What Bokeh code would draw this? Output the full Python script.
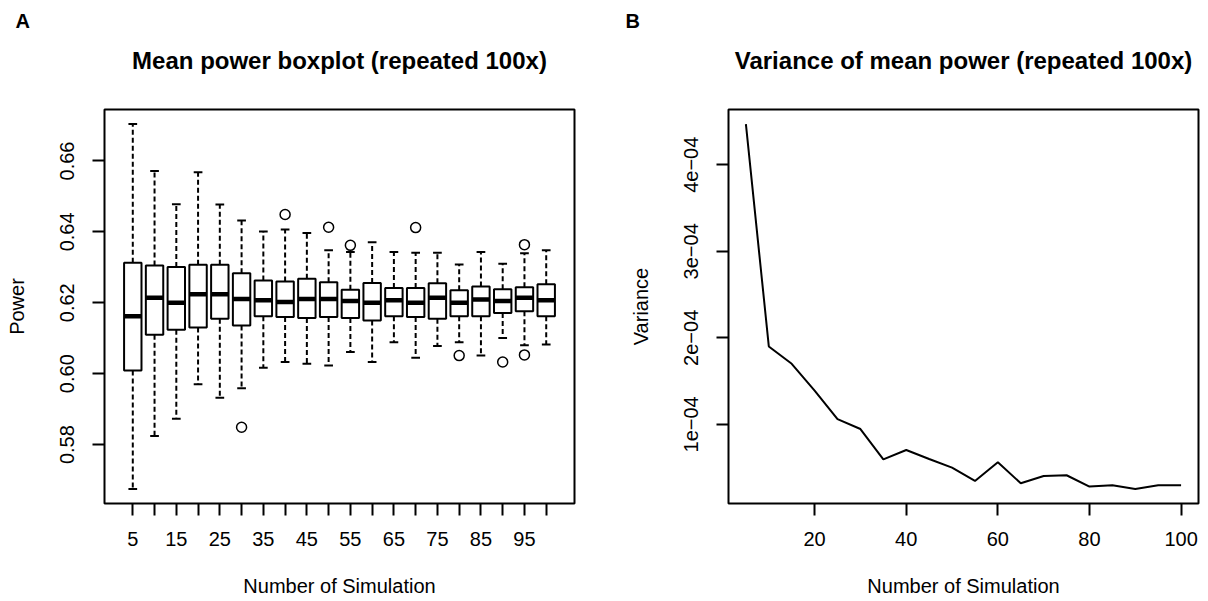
import numpy as np
from bokeh.plotting import figure
from bokeh.layouts import row, column
from bokeh.models import (Range1d, FixedTicker, PrintfTickFormatter,
                          CustomJSTickFormatter, ColumnDataSource)
from bokeh.core.properties import value
from bokeh.embed import file_html
from bokeh.resources import INLINE

FONT = "Liberation Sans"

# ---------------- data ----------------
n_sim = [5, 10, 15, 20, 25, 30, 35, 40, 45, 50, 55, 60, 65, 70, 75, 80, 85, 90, 95, 100]
x_tick_labels = ["5", "", "15", "", "25", "", "35", "", "45", "", "55", "", "65", "",
                 "75", "", "85", "", "95", ""]

whisker_hi = [0.6704, 0.6572, 0.6478, 0.6568, 0.6477, 0.6432, 0.6401, 0.6407, 0.6397, 0.6348,
              0.6343, 0.6371, 0.6343, 0.6341, 0.6341, 0.6308, 0.6343, 0.6310, 0.6340, 0.6348]
q3 = [0.6313, 0.6305, 0.6301, 0.6307, 0.6307, 0.6283, 0.6263, 0.6260, 0.6268, 0.6258,
      0.6237, 0.6256, 0.6242, 0.6242, 0.6255, 0.6235, 0.6246, 0.6238, 0.6244, 0.6252]
median = [0.6162, 0.6214, 0.6200, 0.6224, 0.6224, 0.6211, 0.6207, 0.6202, 0.6211, 0.6211,
          0.6205, 0.6200, 0.6207, 0.6200, 0.6214, 0.6200, 0.6209, 0.6205, 0.6214, 0.6207]
q1 = [0.6009, 0.6110, 0.6124, 0.6130, 0.6155, 0.6136, 0.6162, 0.6160, 0.6157, 0.6160,
      0.6157, 0.6150, 0.6162, 0.6160, 0.6155, 0.6162, 0.6162, 0.6171, 0.6176, 0.6162]
whisker_lo = [0.5675, 0.5824, 0.5873, 0.5970, 0.5932, 0.5959, 0.6017, 0.6033, 0.6028, 0.6023,
              0.6061, 0.6033, 0.6089, 0.6045, 0.6078, 0.6089, 0.6051, 0.6101, 0.6080, 0.6082]
outlier_x = [30, 40, 50, 55, 70, 80, 90, 95, 95]
outlier_y = [0.5849, 0.6449, 0.6413, 0.6362, 0.6412, 0.6051, 0.6033, 0.6364, 0.6053]

variance = [4.47e-4, 1.90e-4, 1.70e-4, 1.39e-4, 1.06e-4, 0.946e-4, 0.596e-4, 0.704e-4, 0.60e-4,
            0.50e-4, 0.346e-4, 0.562e-4, 0.319e-4, 0.404e-4, 0.412e-4, 0.281e-4, 0.296e-4,
            0.254e-4, 0.296e-4, 0.296e-4]

y_ticks_a = [0.58, 0.60, 0.62, 0.64, 0.66]
x_ticks_b = [20, 40, 60, 80, 100]
y_ticks_b = [1e-4, 2e-4, 3e-4, 4e-4]

titles = ["Mean power boxplot (repeated 100x)", "Variance of mean power (repeated 100x)"]
panel_letters = ["A", "B"]
xlabel = "Number of Simulation"

# ---------------- layout constants (pixels) ----------------
W = 1208
PANEL_W = 604
STRIP_H = 107          # header strip holding titles / panel letters
PLOT_H = 601 - STRIP_H
BORDER_TOP = 2
BORDER_BOTTOM = 98
A_LEFT, A_RIGHT = 104, 30
B_LEFT, B_RIGHT = 124, 10

# ---------------- header strip ----------------
strip = figure(width=W, height=STRIP_H, output_backend="svg", toolbar_location=None,
               x_range=Range1d(0, W), y_range=Range1d(0, STRIP_H),
               x_axis_location=None, y_axis_location=None, min_border=0)
strip.outline_line_color = None
strip.xgrid.visible = False
strip.ygrid.visible = False
title_cx = [A_LEFT + (PANEL_W - A_LEFT - A_RIGHT) / 2,
            PANEL_W + B_LEFT + (PANEL_W - B_LEFT - B_RIGHT) / 2]
strip.text(x=title_cx, y=[STRIP_H - 60] * 2, text=titles, text_align="center",
           text_baseline="middle", text_font=value(FONT), text_font_size="24px",
           text_font_style="bold", text_color="black")
strip.text(x=[15, PANEL_W + 21], y=[STRIP_H - 20] * 2, text=panel_letters, text_align="left",
           text_baseline="middle", text_font=value(FONT), text_font_size="20px",
           text_font_style="bold", text_color="black")


def style(p):
    p.xgrid.visible = False
    p.ygrid.visible = False
    p.outline_line_color = "black"
    p.outline_line_width = 2
    p.background_fill_color = "white"
    p.border_fill_color = "white"
    for ax in (p.xaxis[0], p.yaxis[0]):
        ax.axis_line_color = None
        ax.major_tick_out = 12
        ax.major_tick_in = 0
        ax.minor_tick_line_color = None
        ax.major_tick_line_width = 2
        ax.major_tick_line_color = "black"
        ax.major_label_text_font = FONT
        ax.major_label_text_font_size = "20px"
        ax.major_label_text_color = "black"
        ax.axis_label_text_font = FONT
        ax.axis_label_text_font_size = "20px"
        ax.axis_label_text_font_style = "normal"
        ax.axis_label_text_color = "black"
    p.xaxis.major_label_standoff = 16
    p.xaxis.axis_label_standoff = 26
    p.yaxis.major_label_standoff = 18
    p.yaxis.axis_label_standoff = 30
    p.yaxis.major_label_orientation = "vertical"


# ---------------- panel A: boxplot ----------------
x = np.array(n_sim, dtype=float)
step = n_sim[1] - n_sim[0]
box_w = 0.8 * step
span = len(n_sim) * step
xa_lo = n_sim[0] - step / 2 - 0.04 * span
xa_hi = n_sim[-1] + step / 2 + 0.04 * span
all_vals = whisker_hi + whisker_lo + outlier_y
ya_lo, ya_hi = min(all_vals), max(all_vals)
ya_pad = 0.04 * (ya_hi - ya_lo)

pa = figure(width=PANEL_W, height=PLOT_H, output_backend="svg", toolbar_location=None,
            title=None,
            x_range=Range1d(xa_lo, xa_hi), y_range=Range1d(ya_lo - ya_pad, ya_hi + ya_pad),
            min_border_left=A_LEFT, min_border_right=A_RIGHT, min_border_top=BORDER_TOP,
            min_border_bottom=BORDER_BOTTOM,
            x_axis_label=xlabel, y_axis_label="Power")
style(pa)

src = ColumnDataSource(dict(x=x, q1=q1, q3=q3, med=median, lo=whisker_lo, hi=whisker_hi,
                            xl=x - box_w / 2, xr=x + box_w / 2,
                            cl=x - box_w / 4, cr=x + box_w / 4))
pa.segment(x0="x", y0="q3", x1="x", y1="hi", source=src, line_color="black",
           line_width=2, line_dash="5 3")
pa.segment(x0="x", y0="q1", x1="x", y1="lo", source=src, line_color="black",
           line_width=2, line_dash="5 3")
pa.segment(x0="cl", y0="hi", x1="cr", y1="hi", source=src, line_color="black", line_width=2)
pa.segment(x0="cl", y0="lo", x1="cr", y1="lo", source=src, line_color="black", line_width=2)
pa.vbar(x="x", width=box_w, top="q3", bottom="q1", source=src, fill_color="white",
        line_color="black", line_width=2)
pa.segment(x0="xl", y0="med", x1="xr", y1="med", source=src, line_color="black",
           line_width=4.5, line_cap="butt")
pa.scatter(outlier_x, outlier_y, marker="circle", size=10, fill_color=None,
           line_color="black", line_width=1.5)

pa.xaxis.ticker = FixedTicker(ticks=n_sim)
pa.xaxis.major_label_overrides = {int(k): v for k, v in zip(n_sim, x_tick_labels)}
pa.yaxis.ticker = FixedTicker(ticks=y_ticks_a)
pa.yaxis.formatter = PrintfTickFormatter(format="%.2f")

# ---------------- panel B: variance line ----------------
xb_pad = 0.04 * (n_sim[-1] - n_sim[0])
yb_pad = 0.04 * (max(variance) - min(variance))
pb = figure(width=PANEL_W, height=PLOT_H, output_backend="svg", toolbar_location=None,
            title=None,
            x_range=Range1d(n_sim[0] - xb_pad, n_sim[-1] + xb_pad),
            y_range=Range1d(min(variance) - yb_pad, max(variance) + yb_pad),
            min_border_left=B_LEFT, min_border_right=B_RIGHT, min_border_top=BORDER_TOP,
            min_border_bottom=BORDER_BOTTOM,
            x_axis_label=xlabel, y_axis_label="Variance")
style(pb)
pb.line(n_sim, variance, line_color="black", line_width=2)
pb.xaxis.ticker = FixedTicker(ticks=x_ticks_b)
pb.yaxis.ticker = FixedTicker(ticks=y_ticks_b)
pb.yaxis.formatter = CustomJSTickFormatter(code="return Math.round(tick*1e4) + 'e\u221204';")

layout = column(strip, row(pa, pb))
open("out.html", "w").write(file_html(layout, INLINE))
